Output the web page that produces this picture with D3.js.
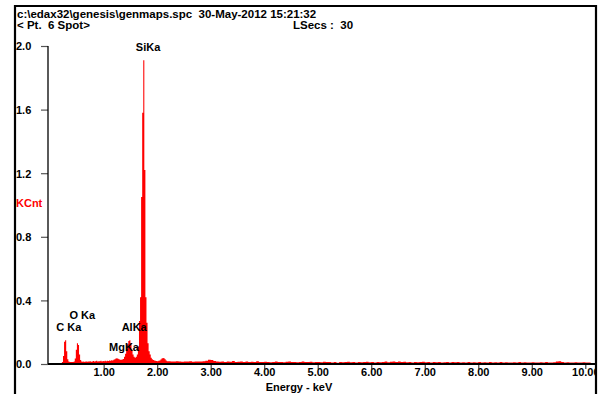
<!DOCTYPE html>
<html><head><meta charset="utf-8">
<script src="https://cdn.jsdelivr.net/npm/d3@7"></script>
<style>
html,body{margin:0;padding:0;background:#fff;}
svg{display:block;}
text{font-family:"Liberation Sans",Arial,sans-serif;font-weight:bold;}
</style></head>
<body>
<svg id="chart" width="603" height="394"></svg>
<script>
// ---- header texts ----
const headerLine1 = "c:\\edax32\\genesis\\genmaps.spc  30-May-2012 15:21:32";
const headerLine2Left = "< Pt.  6 Spot>";
const headerLine2Right = "LSecs :  30";
const yLabel = "KCnt";
const xLabel = "Energy - keV";

// ---- axis ticks ----
const xTicks = [1, 2, 3, 4, 5, 6, 7, 8, 9, 10];
const yTicks = [0.0, 0.4, 0.8, 1.2, 1.6, 2.0];

// ---- spectrum: low-energy channels (0.02 keV wide, first starts at 0.20 keV) ----
const lowStartKeV = 0.20;
const lowWidthKeV = 0.02;
const lowCounts = [
  0.000, 0.012, 0.050, 0.140, 0.150, 0.080, 0.030, 0.016, 0.013, 0.012,
  0.012, 0.013, 0.016, 0.035, 0.090, 0.130, 0.120, 0.060, 0.025, 0.016,
  0.014, 0.015, 0.013, 0.017, 0.014, 0.016, 0.015, 0.018, 0.014, 0.016,
  0.019, 0.015, 0.017, 0.020, 0.016, 0.018, 0.017, 0.021, 0.016, 0.019,
  0.018, 0.020, 0.017, 0.021, 0.019, 0.022, 0.020, 0.023, 0.022, 0.026,
  0.030, 0.034, 0.036, 0.033, 0.030, 0.027, 0.026, 0.028, 0.032, 0.045,
  0.065, 0.095, 0.125, 0.145, 0.150, 0.130, 0.090, 0.060, 0.045, 0.040,
  0.045, 0.060, 0.110, 0.270, 0.420, 1.050, 1.580, 1.910, 1.220, 0.420,
  0.260, 0.130, 0.080, 0.060, 0.040, 0.030, 0.025, 0.022, 0.020, 0.019,
  0.018, 0.020, 0.022, 0.028, 0.035, 0.038, 0.036, 0.030, 0.022, 0.018
];

// ---- spectrum: high-energy channels (0.05 keV wide, first starts at 2.20 keV) ----
const highStartKeV = 2.20;
const highWidthKeV = 0.05;
const highCounts = [
  0.018, 0.016, 0.015, 0.017, 0.015, 0.014, 0.016, 0.015, 0.017, 0.014,
  0.015, 0.016, 0.015, 0.017, 0.021, 0.027, 0.025, 0.019, 0.015, 0.014,
  0.016, 0.013, 0.015, 0.014, 0.019, 0.013, 0.014, 0.016, 0.013, 0.015,
  0.012, 0.014, 0.013, 0.017, 0.013, 0.012, 0.014, 0.013, 0.011, 0.013,
  0.015, 0.012, 0.013, 0.011, 0.014, 0.016, 0.012, 0.013, 0.011, 0.013,
  0.015, 0.012, 0.013, 0.014, 0.011, 0.013, 0.012, 0.011, 0.014, 0.012,
  0.013, 0.010, 0.012, 0.008, 0.013, 0.011, 0.012, 0.014, 0.011, 0.012,
  0.010, 0.013, 0.011, 0.012, 0.014, 0.011, 0.012, 0.010, 0.013, 0.011,
  0.012, 0.015, 0.011, 0.014, 0.016, 0.013, 0.015, 0.012, 0.014, 0.011,
  0.012, 0.010, 0.013, 0.011, 0.012, 0.014, 0.011, 0.012, 0.010, 0.013,
  0.011, 0.012, 0.009, 0.011, 0.012, 0.010, 0.013, 0.011, 0.012, 0.010,
  0.011, 0.009, 0.012, 0.010, 0.011, 0.010, 0.012, 0.009, 0.011, 0.010,
  0.012, 0.009, 0.011, 0.010, 0.012, 0.009, 0.011, 0.010, 0.009, 0.011,
  0.010, 0.012, 0.009, 0.011, 0.010, 0.009, 0.011, 0.010, 0.009, 0.011,
  0.010, 0.012, 0.009, 0.010, 0.011, 0.015, 0.017, 0.012, 0.010, 0.011,
  0.009, 0.010, 0.011, 0.009, 0.010, 0.011, 0.009, 0.010
];

// ---- peak labels ----
const peakNames = ["C Ka", "O Ka", "MgKa", "AlKa", "SiKa"];
const peakLabelKeV = [0.35, 0.60, 1.38, 1.57, 1.83];
const peakLabelKCnt = [0.205, 0.28, 0.08, 0.21, 1.97];

// ---------------------------------------------------------------
const svg = d3.select("#chart");
const x = d3.scaleLinear().domain([-0.04, 10.2]).range([48, 596]);
const y = d3.scaleLinear().domain([0, 2.0]).range([364, 46]);

// Build step points
const pts = [];
lowCounts.forEach((v, i) => pts.push({e: lowStartKeV + i * lowWidthKeV, v}));
highCounts.forEach((v, i) => pts.push({e: highStartKeV + i * highWidthKeV, v}));
pts.push({e: highStartKeV + highCounts.length * highWidthKeV, v: 0});

svg.append("path")
  .datum(pts)
  .attr("fill", "#ff0000")
  .attr("stroke", "none")
  .attr("d", d3.area().x(d => x(d.e)).y0(y(0)).y1(d => y(d.v)).curve(d3.curveStepAfter));

// clip for labels at right frame
svg.append("defs").append("clipPath").attr("id", "frameClip")
  .append("rect").attr("x", 0).attr("y", 0).attr("width", 595).attr("height", 394);

// X axis
const xAxis = d3.axisBottom(x).tickValues(xTicks).tickSize(5).tickSizeOuter(0).tickFormat(d3.format(".2f"));
const gx = svg.append("g").attr("transform", `translate(0,${y(0)})`).attr("clip-path", "url(#frameClip)").call(xAxis);
gx.select(".domain").remove();
gx.selectAll(".tick line").attr("stroke", "#444").attr("stroke-width", 1.2);
gx.selectAll(".tick text").attr("font-size", 11).attr("font-weight", "bold")
  .attr("font-family", "Liberation Sans, Arial, sans-serif").attr("fill", "#000").attr("dy", "0.55em").attr("y", 6);
svg.append("line").attr("x1", x.range()[0]).attr("x2", x.range()[1]).attr("y1", y(0)).attr("y2", y(0))
  .attr("stroke", "#000").attr("stroke-width", 2);

// Y axis
const yAxis = d3.axisLeft(y).tickValues(yTicks).tickSize(7).tickSizeOuter(0).tickFormat(d3.format(".1f"));
const gy = svg.append("g").attr("transform", `translate(${x.range()[0]},0)`).call(yAxis);
gy.select(".domain").remove();
gy.selectAll(".tick line").attr("stroke", "#555").attr("stroke-width", 1.2);
gy.selectAll(".tick text").attr("font-size", 11).attr("font-weight", "bold")
  .attr("font-family", "Liberation Sans, Arial, sans-serif").attr("fill", "#000")
  .attr("text-anchor", "start").attr("x", 16 - x.range()[0]).attr("dy", "0.35em");
svg.append("line").attr("x1", x.range()[0]).attr("x2", x.range()[0]).attr("y1", y(2.0)).attr("y2", y(0))
  .attr("stroke", "#000").attr("stroke-width", 1.3);

// axis titles
svg.append("text").attr("x", 16).attr("y", 207).attr("fill", "#ff0000").attr("font-size", 11).text(yLabel);
svg.append("text").attr("x", 299).attr("y", 391).attr("text-anchor", "middle").attr("font-size", 11).text(xLabel);

// peak labels
peakNames.forEach((n, i) => {
  svg.append("text").attr("x", x(peakLabelKeV[i])).attr("y", y(peakLabelKCnt[i]))
    .attr("text-anchor", "middle").attr("font-size", 11).attr("fill", "#000").text(n);
});

// header
svg.append("text").attr("x", 17).attr("y", 17.5).attr("font-size", 11.5)
  .style("white-space", "pre").text(headerLine1);
svg.append("text").attr("x", 17).attr("y", 28.5).attr("font-size", 11.5)
  .style("white-space", "pre").text(headerLine2Left);
svg.append("text").attr("x", 293).attr("y", 28.5).attr("font-size", 11.5)
  .style("white-space", "pre").text(headerLine2Right);

// frame
svg.append("path").attr("d", "M15,394 V6 H596 V394").attr("fill", "none")
  .attr("stroke", "#000").attr("stroke-width", 2.2);
</script>
</body></html>
